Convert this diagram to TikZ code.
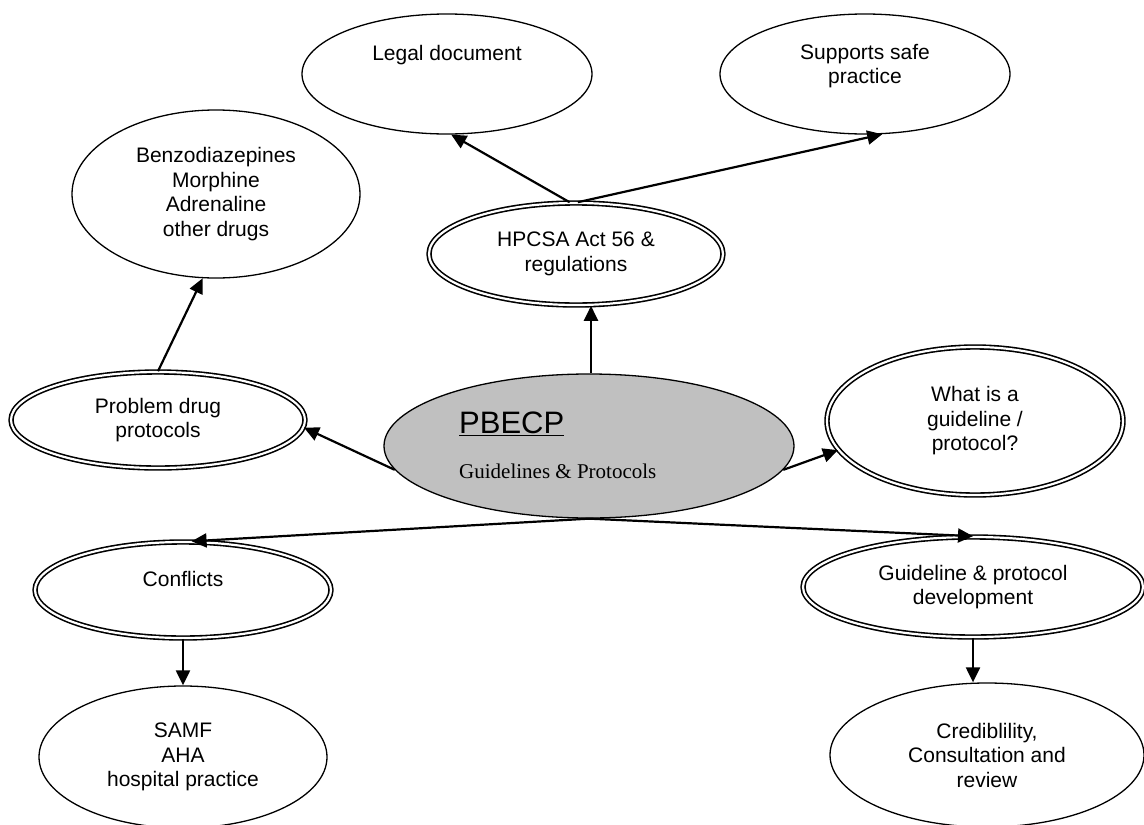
\documentclass[tikz,border=0pt]{standalone}
\usepackage{fontspec}
\setmainfont{Liberation Sans}
\newfontfamily\timesfont{Liberation Serif}
\usetikzlibrary{shapes.geometric,arrows.meta}
\definecolor{pbecpgray}{RGB}{192,192,192}

\begin{document}
\begin{tikzpicture}[x=1pt,y=-1pt,
  ell/.style={ellipse,draw,line width=1.3pt,inner sep=0pt,align=center,
    font=\fontsize{21}{24.5}\selectfont},
  dbl/.style={ell,double,line width=1.6pt,double distance=2.2pt},
  lbl/.style={inner sep=0pt,align=center,font=\fontsize{21}{24.5}\selectfont},
  arr/.style={-{Triangle[length=15pt,width=14pt]},line width=2.2pt}]
% Page
\clip (0,0) rectangle (1144,825);

% Centre
\node[ell,fill=pbecpgray,minimum width=410,minimum height=144] (pbecp) at (589,446) {};
\node[anchor=base west,inner sep=0pt,font=\fontsize{31}{36}\selectfont] (pbecptitle) at (459,433) {\underline{PBECP}};
\node[anchor=base west,inner sep=0pt,font=\fontsize{21}{24}\timesfont] (pbecpsub) at (459,478) {Guidelines \& Protocols};

% Top
\node[ell,minimum width=290,minimum height=120] (legal) at (447,74) {};
\node[lbl] (legaltxt) at (447,55) {Legal document};
\node[ell,minimum width=290,minimum height=120] (safe) at (865,74) {};
\node[lbl] (safetxt) at (865,66) {Supports safe\\practice};
\node[dbl,minimum width=294,minimum height=102] (hpcsa) at (576,254) {HPCSA Act 56 \&\\regulations};

% Left
\node[ell,minimum width=288,minimum height=168] (benzo) at (216,194) {Benzodiazepines\\Morphine\\Adrenaline\\other drugs};
\node[dbl,minimum width=294,minimum height=96] (problem) at (158,420) {Problem drug\\protocols};

% Right
\node[dbl,minimum width=296,minimum height=148] (what) at (975,421) {What is a\\guideline /\\protocol?};

% Bottom
\node[dbl,minimum width=296,minimum height=96] (conflicts) at (183,590) {};
\node[lbl] (conflictstxt) at (183,579) {Conflicts};
\node[ell,minimum width=288,minimum height=142] (samf) at (183,757) {SAMF\\AHA\\hospital practice};
\node[dbl,minimum width=340,minimum height=100] (devel) at (973,587) {Guideline \& protocol\\development};
\node[ell,minimum width=314,minimum height=144] (cred) at (987,755) {Crediblility,\\Consultation and\\review};

% Arrows
\draw[arr] ([xshift=2]pbecp.north) -- ([xshift=2]pbecp.north |- hpcsa.south);
\draw[arr] (hpcsa.97) -- (legal.-86);
\draw[arr] (hpcsa.88) -- (safe.-74);
\draw[arr] (problem.north) -- (benzo.-99);
\draw[arr] (pbecp.187) -- (problem.-3);
\draw[arr] (pbecp.-7) -- (what.192);
\draw[arr] (pbecp.south) -- (conflicts.80);
\draw[arr] (pbecp.south) -- (devel.north);
\draw[arr] (conflicts.south) -- (samf.north);
\draw[arr] (devel.south) -- (devel.south |- cred.north);
\end{tikzpicture}
\end{document}
